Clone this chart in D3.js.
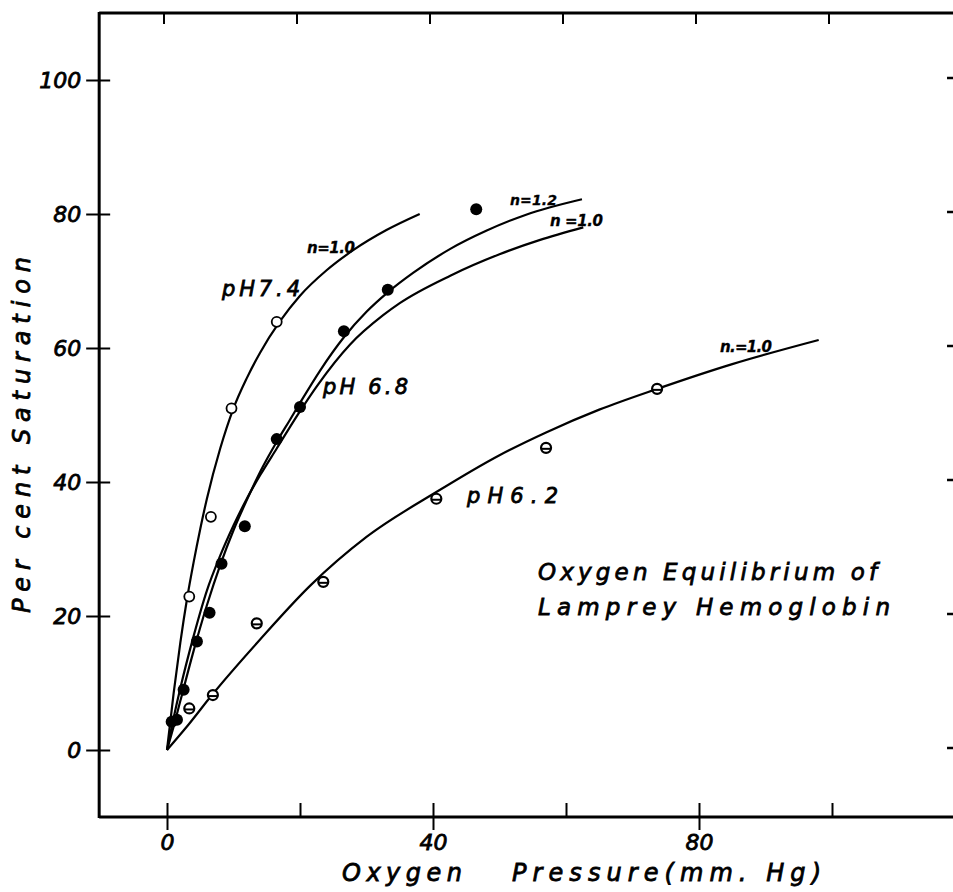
<!DOCTYPE html>
<html>
<head>
<meta charset="utf-8">
<script src="https://cdn.jsdelivr.net/npm/d3@7/dist/d3.min.js"></script>
<style>
  html, body { margin: 0; padding: 0; background: #fff; }
  svg { display: block; }
  text { font-family: "DejaVu Sans", "Noto Sans", sans-serif; font-style: italic; fill: #000; }
</style>
</head>
<body>
<svg id="chart" width="953" height="892"></svg>
<script>
// ---------- data ----------
const xTicks = [0, 20, 40, 60, 80, 100];
const xTickLabels = ["0", "", "40", "", "80", ""];
const yTicks = [0, 20, 40, 60, 80, 100];
const yTickLabels = ["0", "20", "40", "60", "80", "100"];

// measured points [pressure, % saturation]
const pts74 = [[3.35, 22.9], [6.6, 34.8], [9.7, 51.0], [16.5, 63.9]];
const pts68 = [[0.7, 4.2], [1.5, 4.5], [2.5, 9.0], [4.5, 16.2], [6.4, 20.5], [8.2, 27.8],
               [11.7, 33.4], [16.5, 46.4], [20.0, 51.2], [26.6, 62.5], [33.2, 68.7], [46.5, 80.7]];
const pts62 = [[3.35, 6.2], [6.9, 8.2], [13.5, 18.9], [23.5, 25.1], [40.5, 37.5], [57.0, 45.1], [73.7, 53.9]];

// drawn curves
const curve74 = [[0, 0], [1, 8.5], [2, 16], [3, 22.5], [4, 28], [5, 33], [6, 37.5], [8, 45],
                 [10, 51], [12, 55.5], [14, 59.3], [17, 64.0], [20, 67.8], [24, 71.6],
                 [28, 74.6], [33, 77.6], [38, 80]];
const curve68n12 = [[0, 0], [1, 3.5], [2, 7.3], [4, 14.8], [6, 21.6], [8, 27.6], [10, 32.8], [12, 37.3],
                    [14, 41.5], [16.5, 46.0], [18.5, 49.3], [20, 51.8], [23, 56.6], [26.6, 61.6], [30, 65.4],
                    [33.2, 68.3], [37, 71.2], [42.6, 74.8], [48, 77.5], [54, 79.9], [62.4, 82.2]];
const curve68n10 = [[0, 0], [1, 4.8], [2, 9.2], [4, 17], [6, 23.8], [8, 29], [10, 33.5], [12, 37.5],
                    [14, 41.0], [16.5, 45.0], [19.5, 49.8], [22.6, 54.4], [27.5, 60.5], [32.5, 64.9],
                    [35, 66.7], [42.6, 70.8], [50, 74.0], [56, 76.1], [62.6, 78.0]];
const curve62 = [[0, 0], [3, 3.5], [7, 8.5], [14, 16.5], [21.5, 24.5], [30, 31.8], [40.5, 38.5],
                 [50, 44], [57, 47.4], [65, 50.8], [73.7, 53.9], [85, 57.6], [98, 61.2]];

// frame extents in data units
const xFrame = [-10.2, 118.2];
const yFrame = [-10, 110];

// ---------- drawing ----------
const svg = d3.select("#chart");
const x = d3.scaleLinear().domain([0, 100]).range([167, 832]);
const y = d3.scaleLinear().domain([0, 100]).range([750, 80]);

const X0 = x(xFrame[0]), X1 = x(xFrame[1]);
const Y0 = y(yFrame[0]), Y1 = y(yFrame[1]);

// frame lines
const frame = svg.append("g").attr("stroke", "#000").attr("stroke-width", 3).attr("fill", "none");
frame.append("line").attr("x1", X0).attr("x2", X0).attr("y1", Y1 - 1).attr("y2", Y0 + 1);
frame.append("line").attr("x1", X0).attr("x2", X1).attr("y1", Y1).attr("y2", Y1);
frame.append("line").attr("x1", X0).attr("x2", X1).attr("y1", Y0).attr("y2", Y0);

// left axis
const yAxis = svg.append("g").attr("transform", `translate(${X0},0)`)
  .call(d3.axisLeft(y).tickValues(yTicks).tickFormat((d, i) => yTickLabels[i]).tickSize(13).tickPadding(5));
yAxis.select(".domain").remove();
yAxis.selectAll(".tick line").attr("x1", 11).attr("x2", -13).attr("stroke", "#000").attr("stroke-width", 2);
yAxis.selectAll(".tick text").attr("font-size", 22).attr("font-family", "DejaVu Sans").attr("font-style", "italic")
  .attr("stroke", "#000").attr("stroke-width", 0.8).attr("dy", "0.36em");

// bottom axis
const xAxis = svg.append("g").attr("transform", `translate(0,${Y0})`)
  .call(d3.axisBottom(x).tickValues(xTicks).tickFormat((d, i) => xTickLabels[i]).tickSize(13).tickPadding(4));
xAxis.select(".domain").remove();
xAxis.selectAll(".tick line")
  .attr("y1", -14).attr("y2", (d, i) => xTickLabels[i] === "" ? 0 : 13)
  .attr("stroke", "#000").attr("stroke-width", 2);
xAxis.selectAll(".tick text").attr("font-size", 22).attr("font-family", "DejaVu Sans").attr("font-style", "italic")
  .attr("stroke", "#000").attr("stroke-width", 0.8);

// top ticks
svg.append("g").selectAll("line").data(xTicks).join("line")
  .attr("x1", d => x(d) - 3).attr("x2", d => x(d) - 3)
  .attr("y1", Y1).attr("y2", Y1 + 11)
  .attr("stroke", "#000").attr("stroke-width", 2);
// right ticks
svg.append("g").selectAll("line").data(yTicks).join("line")
  .attr("x1", X1 - 6).attr("x2", X1)
  .attr("y1", d => y(d) - 2).attr("y2", d => y(d) - 2)
  .attr("stroke", "#000").attr("stroke-width", 2.5);

// axis titles
const thick = sel => sel.attr("stroke", "#000").attr("stroke-width", 0.8);
svg.append("text")
  .attr("transform", `translate(30,${(613 + 257) / 2}) rotate(-90)`)
  .attr("text-anchor", "middle")
  .attr("font-size", 24)
  .attr("textLength", 356).attr("lengthAdjust", "spacing")
  .call(thick)
  .text("Per cent Saturation");
svg.append("text").attr("x", 342).attr("y", 881).attr("font-size", 24)
  .attr("textLength", 120).attr("lengthAdjust", "spacing").call(thick).text("Oxygen");
svg.append("text").attr("x", 512).attr("y", 881).attr("font-size", 24)
  .attr("textLength", 309).attr("lengthAdjust", "spacing").call(thick).text("Pressure(mm. Hg)");

// curves
const line = d3.line().x(d => x(d[0])).y(d => y(d[1])).curve(d3.curveMonotoneX);
const curves = svg.append("g").attr("fill", "none").attr("stroke", "#000").attr("stroke-width", 2.2);
[curve74, curve68n12, curve68n10, curve62].forEach(c => curves.append("path").attr("d", line(c)));

// markers
svg.append("g").selectAll("circle").data(pts62).join("circle")
  .attr("cx", d => x(d[0])).attr("cy", d => y(d[1])).attr("r", 5)
  .attr("fill", "#fff").attr("stroke", "#000").attr("stroke-width", 2.2);
svg.append("g").selectAll("line").data(pts62).join("line")
  .attr("x1", d => x(d[0]) - 5).attr("x2", d => x(d[0]) + 5)
  .attr("y1", d => y(d[1]) + 1).attr("y2", d => y(d[1]) + 1)
  .attr("stroke", "#000").attr("stroke-width", 2);
svg.append("g").selectAll("circle").data(pts74).join("circle")
  .attr("cx", d => x(d[0])).attr("cy", d => y(d[1])).attr("r", 5)
  .attr("fill", "#fff").attr("stroke", "#000").attr("stroke-width", 1.8);
svg.append("g").selectAll("circle").data(pts68).join("circle")
  .attr("cx", d => x(d[0])).attr("cy", d => y(d[1])).attr("r", 6)
  .attr("fill", "#000");

// annotations
const ann = svg.append("g");
function label(txt, x0, base, size, len, weight) {
  ann.append("text").attr("x", x0).attr("y", base).attr("font-size", size)
    .attr("font-weight", weight || "normal")
    .attr("stroke", "#000").attr("stroke-width", weight ? 0.3 : 0.8)
    .attr("textLength", len).attr("lengthAdjust", "spacing").text(txt);
}
label("pH7.4", 222, 296, 21, 78);
label("pH 6.8", 323, 394, 21, 85);
label("pH6.2", 467, 503, 21, 91);
label("n=1.0", 307, 253, 15, 48, "bold");
label("n=1.2", 510, 205, 14, 47, "bold");
label("n =1.0", 550, 226, 15, 53, "bold");
label("n.=1.0", 720, 352, 15, 52, "bold");
label("Oxygen Equilibrium of", 538, 580, 23, 339);
label("Lamprey  Hemoglobin", 538, 615, 23, 352);
</script>
</body>
</html>
